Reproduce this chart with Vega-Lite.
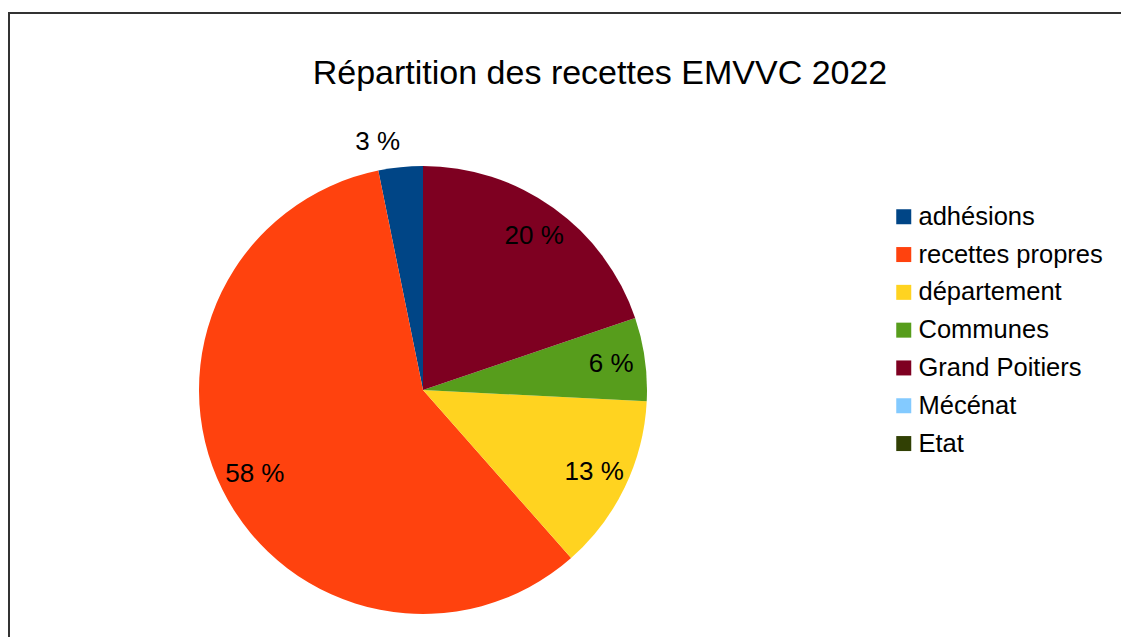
{
  "$schema": "https://vega.github.io/schema/vega-lite/v6.json",
  "width": 1130,
  "height": 640,
  "autosize": "none",
  "padding": {"left": 9, "top": 13, "right": 0, "bottom": 0},
  "background": "white",
  "config": {
    "view": {"stroke": null},
    "font": "Liberation Sans"
  },
  "title": {
    "text": "Répartition des recettes EMVVC 2022",
    "font": "Liberation Sans",
    "fontSize": 34,
    "fontWeight": "normal",
    "color": "#000000",
    "anchor": "middle",
    "baseline": "alphabetic",
    "offset": -106,
    "dx": 26
  },
  "data": {
    "values": [
      {"categorie": "adhésions", "idx": 1, "pct": 3.2, "label": "3 %"},
      {"categorie": "recettes propres", "idx": 2, "pct": 58.3, "label": "58 %"},
      {"categorie": "département", "idx": 3, "pct": 12.7, "label": "13 %"},
      {"categorie": "Communes", "idx": 4, "pct": 6.0, "label": "6 %"},
      {"categorie": "Grand Poitiers", "idx": 5, "pct": 19.8, "label": "20 %"},
      {"categorie": "Mécénat", "idx": 6, "pct": 0, "label": ""},
      {"categorie": "Etat", "idx": 7, "pct": 0, "label": ""}
    ]
  },
  "layer": [
    {
      "data": {"values": [{}]},
      "mark": {"type": "rect", "x": 0, "y": 0, "x2": "width", "y2": "height", "fill": null, "stroke": "#333333", "strokeWidth": 2},
      "encoding": {}
    },
    {
      "mark": {"type": "arc", "radius": 224, "x": 414, "y": 377, "stroke": null},
      "encoding": {
        "theta": {"field": "pct", "type": "quantitative", "stack": true},
        "order": {"field": "idx", "type": "quantitative", "sort": "descending"},
        "color": {
          "field": "categorie",
          "type": "nominal",
          "scale": {
            "domain": ["adhésions", "recettes propres", "département", "Communes", "Grand Poitiers", "Mécénat", "Etat"],
            "range": ["#004586", "#ff420e", "#ffd320", "#579d1c", "#7e0021", "#83caff", "#314004"]
          },
          "legend": {
            "title": null,
            "orient": "none",
            "legendX": 882,
            "legendY": 191,
            "symbolType": "square",
            "symbolSize": 225,
            "symbolStrokeWidth": 0,
            "symbolOpacity": 1,
            "labelFont": "Liberation Sans",
            "labelFontSize": 25.5,
            "labelColor": "#000000",
            "labelOffset": 2,
            "labelLimit": 300,
            "rowPadding": 10.8
          }
        }
      }
    },
    {
      "mark": {
        "type": "text",
        "x": 414,
        "y": 377,
        "radius": {"expr": "datum.pct < 5 ? 253 : 189"},
        "dx": {"expr": "datum.pct < 5 ? -20 : 1"},
        "dy": {"expr": "datum.pct < 5 ? 4 : 0"},
        "font": "Liberation Sans",
        "fontSize": 26,
        "color": "#000000",
        "align": "center",
        "baseline": "middle"
      },
      "encoding": {
        "theta": {"field": "pct", "type": "quantitative", "stack": true},
        "order": {"field": "idx", "type": "quantitative", "sort": "descending"},
        "text": {"field": "label", "type": "nominal"}
      }
    }
  ]
}
